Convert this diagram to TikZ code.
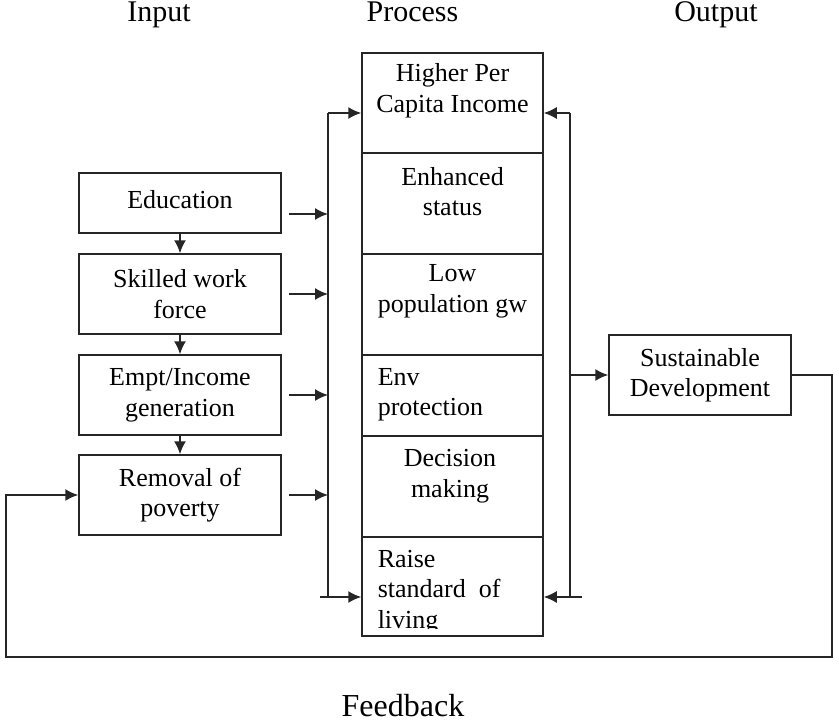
\documentclass[tikz,border=0pt]{standalone}
\usepackage{fontspec}
\setmainfont{Liberation Serif}
\usetikzlibrary{arrows.meta}
\begin{document}
\begin{tikzpicture}[x=1pt,y=-1pt,
  line width=1.5pt,
  box/.style={draw=black!85, rectangle, inner sep=0pt, font=\fontsize{26}{30.5}\selectfont, align=center},
  cell/.style={draw=black!85, rectangle, inner sep=0pt, minimum width=181pt},
  txt/.style={inner sep=0pt, font=\fontsize{26}{30.5}\selectfont},
  head/.style={inner sep=0pt, anchor=base, font=\fontsize{30}{36}\selectfont},
  arr/.style={draw=black!85, -{Latex[length=13pt,width=12pt]}},
  ln/.style={draw=black!85}]
\useasboundingbox (0,0) rectangle (839,725);

% headings
\node[head] (hin) at (159,22) {Input};
\node[head] (hpr) at (412.5,22) {Process};
\node[head] (hout) at (716,22) {Output};
\node[head, font=\fontsize{32}{36}\selectfont] (hfb) at (403,716) {Feedback};

% input boxes
\node[box, minimum width=202pt, minimum height=60pt] (edu) at (180,203) {};
\node[txt] (edut) at (180,200) {Education};
\node[box, minimum width=202pt, minimum height=80pt] (skill) at (180,294) {Skilled work\\force};
\node[box, minimum width=202pt, minimum height=80pt] (empt) at (180,395) {Empt/Income\\generation};
\node[box, minimum width=202pt, minimum height=80pt] (pov) at (180,495) {Removal of\\poverty};

\draw[arr] (edu.south) -- (skill.north);
\draw[arr] (skill.south) -- (empt.north);
\draw[arr] (empt.south) -- (pov.north);

% process cells
\node[cell, minimum height=100pt] (p1) at (452.5,103) {};
\node[cell, minimum height=101pt] (p2) at (452.5,203.5) {};
\node[cell, minimum height=101pt] (p3) at (452.5,304.5) {};
\node[cell, minimum height=81pt] (p4) at (452.5,395.5) {};
\node[cell, minimum height=101pt] (p5) at (452.5,486.5) {};
\node[cell, minimum height=99pt] (p6) at (452.5,586.5) {};

\node[txt, align=center] (t1) at (452.5,90.5) {Higher Per\\Capita Income};
\node[txt, align=center] (t2) at (452.5,191.5) {Enhanced\\status};
\node[txt, align=center] (t3) at (452.5,291.5) {Low\\population gw};
\node[txt, align=left, anchor=west] (t4) at (377,395) {Env\\protection};
\node[txt, align=center] (t5) at (450,476) {Decision\\making};
\begin{scope}
  \clip (362,537) rectangle (543,628);
  \node[txt, align=left, anchor=west] (t6) at (377,592) {Raise\\standard\ \ of\\living};
\end{scope}

% output box
\node[box, minimum width=182pt, minimum height=80pt] (sd) at (700,375) {Sustainable\\Development};

% left bus
\coordinate (lbt) at (328,113);
\coordinate (lbb) at (328,597);
\coordinate (lbs) at (320,597);
\draw[ln] (lbb) -- (lbt);
\draw[arr] (lbt) -- (lbt -| p1.west);
\draw[arr] (lbs) -- (lbs -| p6.west);
\draw[arr] ([shift={(7,11)}]edu.east) -- ([shift={(0,11)}]edu.east -| lbt);
\draw[arr] ([xshift=7pt]skill.east) -- (skill.east -| lbt);
\draw[arr] ([xshift=7pt]empt.east) -- (empt.east -| lbt);
\draw[arr] ([xshift=7pt]pov.east) -- (pov.east -| lbt);

% right bus
\coordinate (rbt) at (570,113);
\coordinate (rbb) at (570,597);
\coordinate (rbs) at (582,597);
\draw[ln] (rbb) -- (rbt);
\draw[arr] (rbt) -- (rbt -| p1.east);
\draw[arr] (rbs) -- (rbs -| p6.east);
\draw[arr] (sd.west -| rbt) -- (sd.west);

% feedback loop
\coordinate (f1) at (832,375);
\coordinate (f2) at (832,657);
\coordinate (f3) at (6,657);
\draw[arr] (sd.east) -- (f1) -- (f2) -- (f3) -- (f3 |- pov.west) -- (pov.west);
\end{tikzpicture}
\end{document}
